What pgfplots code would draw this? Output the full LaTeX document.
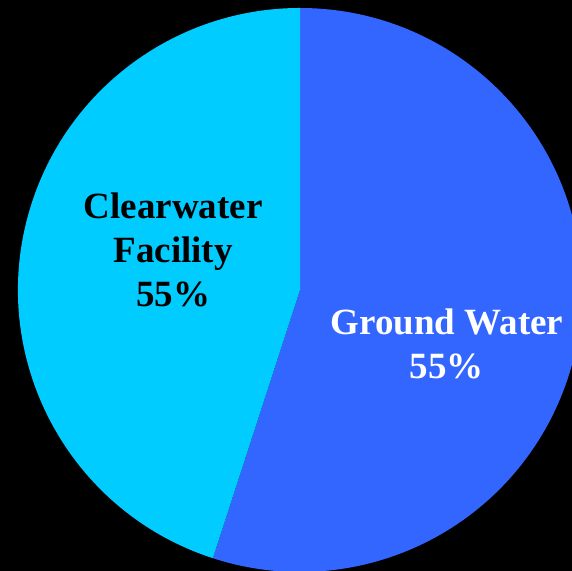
\documentclass[border=0pt]{standalone}
\usepackage{pgfplots}
\pgfplotsset{compat=1.18}
\usepackage{pgfplotstable}
\usepackage{fontspec}
\setmainfont{Liberation Serif}

\definecolor{groundblue}{HTML}{3366FF}
\definecolor{clearcyan}{HTML}{00CCFF}

% shares in percent, first slice starts at 12 o'clock and runs clockwise
\pgfplotstableread[col sep=comma]{
name,share
Ground Water,55
Clearwater Facility,45
}\piedata

\begin{document}
\begin{tikzpicture}
  \pgfplotstablegetelem{0}{share}\of\piedata \let\shareA\pgfplotsretval
  \pgfplotstablegetelem{1}{share}\of\piedata \let\shareB\pgfplotsretval
  \pgfmathsetmacro\angA{90-3.6*\shareA}
  \pgfmathsetmacro\angB{\angA-3.6*\shareB}
  \pgfmathsetmacro\cxA{cos(\angA)}
  \pgfmathsetmacro\cyA{sin(\angA)}
  \begin{axis}[
      width=286pt, height=285.5pt,
      scale only axis,
      xmin=-1.0638, xmax=0.9645,
      ymin=-0.9965, ymax=1.0284,
      axis lines=none, ticks=none,
      axis background/.style={fill=black},
      clip=true
    ]
    \fill[groundblue] (axis cs:0,0) -- (axis cs:0,1)
      arc[start angle=90, end angle=\angA, radius=141pt] -- cycle;
    \fill[clearcyan] (axis cs:0,0) -- (axis cs:\cxA,\cyA)
      arc[start angle=\angA, end angle=\angB, radius=141pt] -- cycle;
    \node[align=center, text=black, font=\fontsize{18.5}{22}\selectfont\bfseries]
      at (axis cs:-0.450,0.142) {Clearwater\\Facility\\55\%};
    \node[align=center, text=white, font=\fontsize{18.5}{22}\selectfont\bfseries]
      at (axis cs:0.521,-0.191) {Ground Water\\55\%};
  \end{axis}
\end{tikzpicture}
\end{document}
